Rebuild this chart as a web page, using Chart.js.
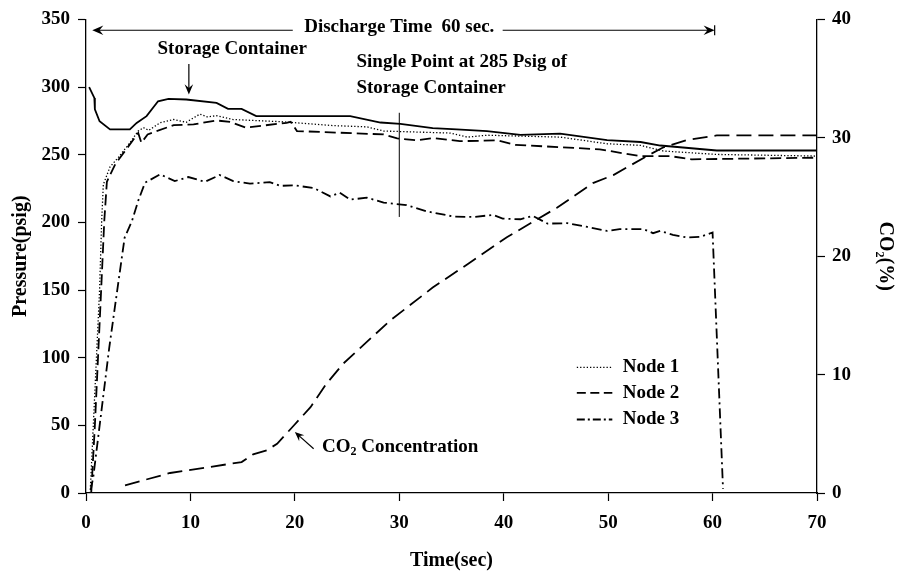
<!DOCTYPE html>
<html><head><meta charset="utf-8">
<script src="https://cdn.jsdelivr.net/npm/chart.js@4.4.1/dist/chart.umd.min.js"></script>
<style>html,body{margin:0;padding:0;background:#fff}#wrap{width:897px;height:576px;position:relative}</style>
</head><body><div id="wrap"><canvas id="c"></canvas></div>
<script>
// ---- data ----
const xTicks = [0, 10, 20, 30, 40, 50, 60, 70];
const pressureTicks = [0, 50, 100, 150, 200, 250, 300, 350];
const co2Ticks = [0, 10, 20, 30, 40];

const storageTime = [0.3, 0.8, 0.85, 1.3, 2.3, 4.2, 4.85, 5.8, 6.9, 7.9, 9.6, 12.5, 13.6, 14.9, 16.3, 25.3, 28.2, 30.1, 33.2, 35.5, 38.4, 41.6, 45.4, 49.9, 53.1, 55.0, 60.4, 70];
const storagePsi  = [300, 292, 283.5, 274.7, 268.7, 268.7, 273.5, 278.5, 289.5, 291.2, 290.8, 288.3, 283.9, 283.9, 278.5, 278.5, 273.8, 272.8, 269.7, 268.8, 267.5, 264.7, 265.6, 260.8, 259.4, 256.8, 253.1, 253.1];

const node1Time = [0.4, 0.7, 1.0, 1.3, 1.5, 1.66, 2.3, 3.1, 4.2, 5.0, 5.5, 6.0, 7.1, 8.4, 9.6, 10.9, 11.6, 12.5, 14.1, 18.9, 23.7, 26.9, 28.5, 34.9, 36.5, 38.4, 45.4, 49.9, 53.1, 55.3, 60.4, 70];
const node1Psi  = [0, 50, 100, 150, 201, 228, 241, 248, 258.8, 267.5, 270, 268, 273.6, 276, 274, 280, 278, 278.8, 276, 274.3, 271.5, 270.6, 267.5, 266, 263, 264.4, 263, 258.1, 256.9, 252.7, 250.2, 249];

const node2Time = [0.5, 0.85, 1.15, 1.45, 1.75, 2.0, 2.8, 5.0, 5.3, 5.9, 8.4, 10.3, 12.5, 13.8, 15.3, 19.2, 19.6, 20.2, 28.5, 29.8, 31.7, 33.3, 35.8, 39.4, 41.1, 49.2, 53.0, 55.9, 58.0, 70];
const node2Psi  = [0, 50, 100, 150, 201, 230, 243, 266, 258.8, 265, 271.9, 272.4, 275.3, 274.3, 270, 273.6, 274.3, 267.5, 265, 262, 260.6, 262.3, 260, 260.6, 257.3, 254, 249, 249, 246.6, 247.8];

const node3Time = [0.45, 0.7, 1.5, 2.23, 2.94, 3.7, 4.4, 5.0, 5.65, 7.1, 8.5, 9.8, 11.4, 12.8, 14.1, 15.7, 17.6, 18.6, 19.9, 21.8, 23.4, 24.3, 25.3, 26.9, 28.5, 30.7, 32.7, 35.2, 37.1, 39.0, 39.9, 41.6, 42.8, 44.2, 46.1, 48.0, 49.9, 51.1, 53.4, 54.3, 55.0, 56.2, 57.6, 58.8, 60.0, 61.0];
const node3Psi  = [2, 12, 62, 107.6, 147, 188.8, 201, 216, 229.3, 235.5, 230.5, 233.5, 230, 235, 230.5, 228.6, 229.8, 227, 227.4, 225.4, 219.2, 222, 216.8, 218.3, 214.6, 212.7, 208, 204.3, 204, 205.5, 202.8, 202.3, 204.7, 199.1, 199.4, 196.6, 193.7, 195, 195, 192, 193.7, 190.8, 188.8, 189.3, 192.5, 3];

const co2Time = [3.74, 8.05, 14.9, 16.0, 17.3, 18.3, 19.9, 21.5, 23.0, 24.6, 26.2, 29.1, 33.2, 36.5, 40.3, 45.1, 48.6, 50.5, 53.7, 55.3, 57.5, 60.4, 70];
const co2Pct  = [0.65, 1.69, 2.61, 3.26, 3.6, 4.16, 5.7, 7.25, 9.2, 10.9, 12.2, 14.55, 17.35, 19.3, 21.6, 24.1, 26.2, 26.85, 28.45, 29.2, 29.8, 30.2, 30.2];

const seriesNames = ['Storage Container', 'Node 1', 'Node 2', 'Node 3', 'CO\u2082 Concentration'];

// ---- styling ----
const FONT = '"Liberation Serif", "Times New Roman", serif';
const toXY = (xs, ys) => xs.map((v, i) => ({x: v, y: ys[i]}));

const datasets = [
  {label: seriesNames[0], data: toXY(storageTime, storagePsi), borderColor: '#000', borderWidth: 1.8, yAxisID: 'y'},
  {label: seriesNames[1], data: toXY(node1Time, node1Psi), borderColor: '#000', borderWidth: 1.3, borderDash: [1.3, 2], yAxisID: 'y'},
  {label: seriesNames[2], data: toXY(node2Time, node2Psi), borderColor: '#000', borderWidth: 1.8, borderDash: [11, 5], yAxisID: 'y'},
  {label: seriesNames[3], data: toXY(node3Time, node3Psi), borderColor: '#000', borderWidth: 1.8, borderDash: [10, 4, 2, 4], yAxisID: 'y'},
  {label: seriesNames[4], data: toXY(co2Time, co2Pct), borderColor: '#000', borderWidth: 1.8, borderDash: [15, 7], yAxisID: 'y2'}
].map(d => Object.assign({pointRadius: 0, tension: 0, fill: false, borderCapStyle: 'butt'}, d));

const legendDash = {1: [1.3, 2], 2: [9, 4.5], 3: [8, 3, 2, 3]};

function arrowHead(ctx, x1, y1, x2, y2, size) {
  const a = Math.atan2(y2 - y1, x2 - x1);
  ctx.beginPath();
  ctx.moveTo(x2, y2);
  ctx.lineTo(x2 - size * Math.cos(a - 0.4), y2 - size * Math.sin(a - 0.4));
  ctx.lineTo(x2 - size * 0.6 * Math.cos(a), y2 - size * 0.6 * Math.sin(a));
  ctx.lineTo(x2 - size * Math.cos(a + 0.4), y2 - size * Math.sin(a + 0.4));
  ctx.closePath();
  ctx.fill();
}
function arrow(ctx, x1, y1, x2, y2, size) {
  const a = Math.atan2(y2 - y1, x2 - x1);
  ctx.beginPath();
  ctx.moveTo(x1, y1);
  ctx.lineTo(x2 - size * 0.5 * Math.cos(a), y2 - size * 0.5 * Math.sin(a));
  ctx.stroke();
  arrowHead(ctx, x1, y1, x2, y2, size);
}

const annot = {
  id: 'annot',
  afterDatasetsDraw(chart) {
    const {ctx, scales: {x, y}} = chart;
    const px = t => x.getPixelForValue(t), py = v => y.getPixelForValue(v);
    ctx.save();
    ctx.fillStyle = '#000'; ctx.strokeStyle = '#000'; ctx.lineWidth = 1.2; ctx.setLineDash([]);
    const F = 'bold 19px ' + FONT;
    ctx.font = F;
    ctx.textBaseline = 'middle';
    // Discharge time
    ctx.textAlign = 'center';
    ctx.fillText('Discharge Time  60 sec.', px(30), py(344.4));
    arrow(ctx, px(19.8), py(342), px(0.6), py(342), 12);
    arrow(ctx, px(39.9), py(342), px(60.2), py(342), 12);
    ctx.beginPath(); ctx.moveTo(px(60.2), py(342) - 5); ctx.lineTo(px(60.2), py(342) + 5); ctx.stroke();
    // Storage container
    ctx.fillText('Storage Container', px(14.0), py(328.2));
    arrow(ctx, px(9.85), py(317), px(9.85), py(294.5), 11);
    // Single point
    ctx.textAlign = 'left';
    ctx.fillText('Single Point at 285 Psig of', px(25.9), py(318.4));
    ctx.fillText('Storage Container', px(25.9), py(299.6));
    ctx.lineWidth = 1;
    ctx.beginPath(); ctx.moveTo(px(30), py(281)); ctx.lineTo(px(30), py(204)); ctx.stroke();
    // CO2 concentration label
    let tx = px(22.6); const ty = py(33.9);
    ctx.fillText('CO', tx, ty); tx += ctx.measureText('CO').width;
    ctx.font = 'bold 12px ' + FONT; ctx.fillText('2', tx, ty + 5); tx += ctx.measureText('2').width;
    ctx.font = F; ctx.fillText(' Concentration', tx, ty);
    ctx.lineWidth = 1.2;
    arrow(ctx, px(21.8), py(32.7), px(20.0), py(45), 10);
    // Legend
    const rows = [92.9, 74, 54.3];
    [1, 2, 3].forEach((di, k) => {
      const ds = chart.data.datasets[di];
      ctx.save();
      ctx.lineWidth = ds.borderWidth; ctx.setLineDash(legendDash[di]);
      ctx.beginPath(); ctx.moveTo(px(47.0), py(rows[k])); ctx.lineTo(px(50.4), py(rows[k])); ctx.stroke();
      ctx.restore();
      ctx.fillText(ds.label, px(51.4), py(rows[k]));
    });
    ctx.restore();
  }
};

const tickFont = {family: FONT, size: 19, weight: 'bold'};
const titleFont = {family: FONT, size: 20, weight: 'bold'};
const axisCommon = {
  grid: {drawOnChartArea: false, drawTicks: true, tickLength: 8, color: '#000', tickWidth: 1.2},
  border: {display: true, color: '#000', width: 1.3},
  ticks: {color: '#000', font: tickFont}
};

new Chart(document.getElementById('c'), {
  type: 'line',
  data: {datasets},
  plugins: [annot],
  options: {
    responsive: true, maintainAspectRatio: false, animation: false,
    layout: {padding: {top: 18, left: 0, right: 0, bottom: 0}},
    plugins: {legend: {display: false}, tooltip: {enabled: false}},
    scales: {
      x: Object.assign({}, axisCommon, {
        type: 'linear', min: xTicks[0], max: xTicks[xTicks.length - 1],
        afterBuildTicks: s => { s.ticks = xTicks.map(v => ({value: v})); },
        ticks: Object.assign({}, axisCommon.ticks, {padding: 11, maxRotation: 0}),
        title: {display: true, text: 'Time(sec)', color: '#000', font: titleFont, padding: {top: 0, bottom: 3}},
        afterFit: s => { s.height = 83; }
      }),
      y: Object.assign({}, axisCommon, {
        type: 'linear', position: 'left', min: pressureTicks[0], max: pressureTicks[pressureTicks.length - 1],
        afterBuildTicks: s => { s.ticks = pressureTicks.map(v => ({value: v})); },
        ticks: Object.assign({}, axisCommon.ticks, {padding: 8}),
        title: {display: true, text: 'Pressure(psig)', color: '#000', font: titleFont, padding: {top: 9, bottom: 0}},
        afterFit: s => { s.width = 86; }
      }),
      y2: Object.assign({}, axisCommon, {
        type: 'linear', position: 'right', min: co2Ticks[0], max: co2Ticks[co2Ticks.length - 1],
        afterBuildTicks: s => { s.ticks = co2Ticks.map(v => ({value: v})); },
        ticks: Object.assign({}, axisCommon.ticks, {padding: 7}),
        title: {display: true, text: 'CO\u2082(%)', color: '#000', font: titleFont, padding: {top: 0, bottom: 0}},
        afterFit: s => { s.width = 80; }
      })
    }
  }
});
</script></body></html>
